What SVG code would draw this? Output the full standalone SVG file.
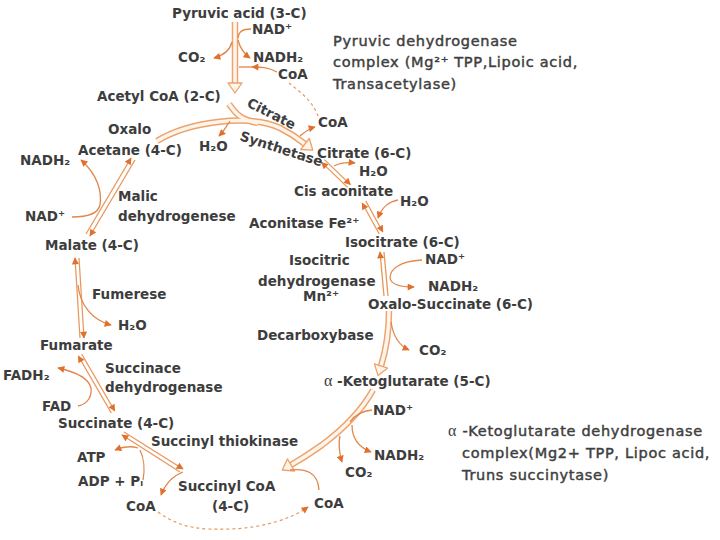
<svg xmlns="http://www.w3.org/2000/svg" width="720" height="540" viewBox="0 0 720 540">
<defs>
<style>
.t{font-family:"DejaVu Sans","Liberation Sans",sans-serif;font-weight:bold;font-size:13.5px;fill:#3d3d3d}
.a{font-family:"DejaVu Sans","Liberation Sans",sans-serif;font-size:14.5px;letter-spacing:0.7px;fill:#404040;stroke:#404040;stroke-width:0.45}
.g{font-family:"Liberation Serif",serif;font-weight:normal;font-size:16px}
.ho{fill:none;stroke:#eca36d;stroke-width:6.5}
.hi{fill:none;stroke:#fff4ea;stroke-width:3.6}
.hh{fill:#fff4ea;stroke:#eca36d;stroke-width:1.3;stroke-linejoin:round}
.p{fill:none;stroke:#e8975c;stroke-width:1.3}
.r{fill:none;stroke:#e2864a;stroke-width:1.3}
.d{fill:none;stroke:#e8975c;stroke-width:1.2;stroke-dasharray:3 3}
</style>
<marker id="ah" viewBox="0 0 10 10" refX="9" refY="5" markerWidth="8" markerHeight="7" markerUnits="userSpaceOnUse" orient="auto-start-reverse"><path d="M0,0L10,5L0,10z" fill="#e0702c"/></marker>
</defs>
<rect width="720" height="540" fill="#ffffff"/>
<g id="connectors">
<path class="ho" d="M235,22V84"/>
<path class="ho" d="M157,141 C190,121 250,114 280,128 C292,134 300,140 305,144"/>
<path class="ho" d="M229,104 C236,114 241,120 258,123"/>
<path class="ho" d="M389,311 C389,330 386,350 381,366"/>
<path class="ho" d="M373,390 C362,410 342,430 322,445 C308,455 298,461 291,465"/>
<path class="hi" d="M235,22V84"/>
<path class="hi" d="M157,141 C190,121 250,114 280,128 C292,134 300,140 305,144"/>
<path class="hi" d="M229,104 C236,114 241,120 258,123"/>
<path class="hi" d="M389,311 C389,330 386,350 381,366"/>
<path class="hi" d="M373,390 C362,410 342,430 322,445 C308,455 298,461 291,465"/>
<polygon class="hh" points="228,83 242,83 235,93"/>
<polygon class="hh" points="300.7,149.5 309.3,138.5 312.8,150.2"/>
<polygon class="hh" points="374.4,363.9 387.7,368.1 378,375.5"/>
<polygon class="hh" points="287.5,458.9 294.5,471.1 282.3,470"/>
<path class="p" d="M321.6,162.4 L347.6,187.4" marker-start="url(#ah)"/>
<path class="p" d="M324.4,159.6 L350.4,184.6" marker-end="url(#ah)"/>
<path class="p" d="M362.2,203 L379.2,234" marker-start="url(#ah)"/>
<path class="p" d="M365.8,201 L382.8,232" marker-end="url(#ah)"/>
<path class="p" d="M380,252 L384,296" marker-start="url(#ah)"/>
<path class="p" d="M384,252 L388,296"/>
<path class="p" d="M122,435 L180,472" marker-start="url(#ah)"/>
<path class="p" d="M124,432 L183,469" marker-end="url(#ah)"/>
<path class="p" d="M78.3,356 L111.3,413" marker-start="url(#ah)"/>
<path class="p" d="M81.7,354 L114.7,411" marker-end="url(#ah)"/>
<path class="p" d="M75,258 L80,338" marker-start="url(#ah)"/>
<path class="p" d="M79,258 L84,338" marker-end="url(#ah)"/>
<path class="p" d="M86,234 L131,158" marker-end="url(#ah)"/>
<path class="p" d="M90,236 L135,160" marker-start="url(#ah)"/>
<path class="r" d="M251,29 C243,29 239,31 238,38"/>
<path class="r" d="M238,40 C240,48 243,53 250,58" marker-end="url(#ah)"/>
<path class="r" d="M232,42 C230,50 225,55 214,58" marker-end="url(#ah)"/>
<path class="r" d="M277,72 C268,67 260,67 252,67" marker-end="url(#ah)"/>
<path class="r" d="M252,67 L239,67"/>
<path class="d" d="M289,83 C300,92 312,100 318,116"/>
<path class="r" d="M230,121 C226,127 224,131 219,136" marker-end="url(#ah)"/>
<path class="r" d="M300,136 C305,132 308,129 315,127" marker-end="url(#ah)"/>
<path class="r" d="M334,166 C340,163 346,162 355,163" marker-end="url(#ah)"/>
<path class="r" d="M398,200 C388,202 382,207 378,218" marker-end="url(#ah)"/>
<path class="r" d="M422,260 C400,261 390,269 390,278 C391,284 398,287 414,287" marker-end="url(#ah)"/>
<path class="r" d="M391,322 C393,335 398,345 409,350" marker-end="url(#ah)"/>
<path class="r" d="M372,410 C362,411 355,415 350,422"/>
<path class="r" d="M352,425 C352,438 358,447 371,452" marker-end="url(#ah)"/>
<path class="r" d="M340,436 C338,445 339,452 342,462" marker-end="url(#ah)"/>
<path class="r" d="M290,470 C305,468 318,472 319,490"/>
<path class="d" d="M158,512 C180,528 200,530 230,529 C260,528 290,520 308,507" marker-end="url(#ah)"/>
<path class="r" d="M138,448 C132,446 125,446 115,450" marker-end="url(#ah)"/>
<path class="r" d="M143,480 C145,470 144,458 140,450"/>
<path class="r" d="M183,472 C175,475 166,482 161,495" marker-end="url(#ah)"/>
<path class="r" d="M78,406 C88,404 92,396 91,388 C89,379 76,372 58,368" marker-end="url(#ah)"/>
<path class="r" d="M78,285 C80,305 92,320 111,325" marker-end="url(#ah)"/>
<path class="r" d="M72,217 C85,217 98,214 100,205 C102,192 98,175 81,160" marker-end="url(#ah)"/>
</g>
<g id="pyruvic"><text class="t" x="172" y="18">Pyruvic acid (3-C)</text></g>
<g id="nad1"><text class="t" x="252" y="34">NAD⁺</text></g>
<g id="co2a"><text class="t" x="178" y="62">CO₂</text></g>
<g id="nadh1"><text class="t" x="253" y="62">NADH₂</text></g>
<g id="coa1"><text class="t" x="278" y="79">CoA</text></g>
<g id="acetyl"><text class="t" x="97" y="101">Acetyl CoA (2-C)</text></g>
<g id="citrate-lbl"><text class="t" transform="translate(246,106) rotate(27)">Citrate</text></g>
<g id="coa2"><text class="t" x="318" y="127">CoA</text></g>
<g id="oxalo"><text class="t" x="108" y="134">Oxalo</text><text class="t" x="78" y="155">Acetane (4-C)</text></g>
<g id="h2o1"><text class="t" x="199" y="151">H₂O</text></g>
<g id="synthetase"><text class="t" transform="translate(239,140) rotate(18)">Synthetase</text></g>
<g id="citrate"><text class="t" x="317" y="158">Citrate (6-C)</text></g>
<g id="nadh-left"><text class="t" x="20" y="165">NADH₂</text></g>
<g id="h2o2"><text class="t" x="359" y="176">H₂O</text></g>
<g id="cis"><text class="t" x="294" y="196">Cis aconitate</text></g>
<g id="h2o3"><text class="t" x="400" y="206">H₂O</text></g>
<g id="malic"><text class="t" x="118" y="201">Malic</text><text class="t" x="118" y="221">dehydrogenese</text></g>
<g id="nad-left"><text class="t" x="25" y="221">NAD⁺</text></g>
<g id="aconitase"><text class="t" x="249" y="228">Aconitase Fe²⁺</text></g>
<g id="malate"><text class="t" x="45" y="250">Malate (4-C)</text></g>
<g id="isocitrate"><text class="t" x="345" y="247">Isocitrate (6-C)</text></g>
<g id="icdh"><text class="t" x="289" y="265">Isocitric</text><text class="t" x="258" y="286">dehydrogenase</text><text class="t" x="303" y="301">Mn²⁺</text></g>
<g id="nad3"><text class="t" x="425" y="264">NAD⁺</text></g>
<g id="nadh3"><text class="t" x="428" y="291">NADH₂</text></g>
<g id="oxalosuccinate"><text class="t" x="368" y="309">Oxalo-Succinate (6-C)</text></g>
<g id="fumerese"><text class="t" x="92" y="299">Fumerese</text></g>
<g id="h2o4"><text class="t" x="118" y="330">H₂O</text></g>
<g id="decarboxybase"><text class="t" x="257" y="340">Decarboxybase</text></g>
<g id="co2b"><text class="t" x="419" y="355">CO₂</text></g>
<g id="fumarate"><text class="t" x="40" y="350">Fumarate</text></g>
<g id="sdh"><text class="t" x="105" y="373">Succinace</text><text class="t" x="105" y="392">dehydrogenase</text></g>
<g id="fadh2"><text class="t" x="3" y="380">FADH₂</text></g>
<g id="akg"><text class="t" x="324" y="386"><tspan class="g">α</tspan> -Ketoglutarate (5-C)</text></g>
<g id="fad"><text class="t" x="42" y="411">FAD</text></g>
<g id="nad4"><text class="t" x="373" y="415">NAD⁺</text></g>
<g id="succinate"><text class="t" x="58" y="428">Succinate (4-C)</text></g>
<g id="thiokinase"><text class="t" x="151" y="446">Succinyl thiokinase</text></g>
<g id="atp"><text class="t" x="77" y="462">ATP</text></g>
<g id="nadh4"><text class="t" x="374" y="460">NADH₂</text></g>
<g id="co2c"><text class="t" x="345" y="477">CO₂</text></g>
<g id="adp"><text class="t" x="78" y="486">ADP + Pᵢ</text></g>
<g id="succinylcoa"><text class="t" x="178" y="491">Succinyl CoA</text><text class="t" x="212" y="511">(4-C)</text></g>
<g id="coa3"><text class="t" x="126" y="511">CoA</text></g>
<g id="coa4"><text class="t" x="314" y="508">CoA</text></g>
<g id="pdh-note"><text class="a" x="333" y="46">Pyruvic dehydrogenase</text><text class="a" x="333" y="67">complex (Mg²⁺ TPP,Lipoic acid,</text><text class="a" x="333" y="89">Transacetylase)</text></g>
<g id="akgdh-note"><text class="a" x="448" y="436"><tspan class="g" style="stroke:none">α</tspan> -Ketoglutarate dehydrogenase</text><text class="a" x="462" y="458">complex(Mg2+ TPP, Lipoc acid,</text><text class="a" x="462" y="480">Truns succinytase)</text></g>
</svg>
